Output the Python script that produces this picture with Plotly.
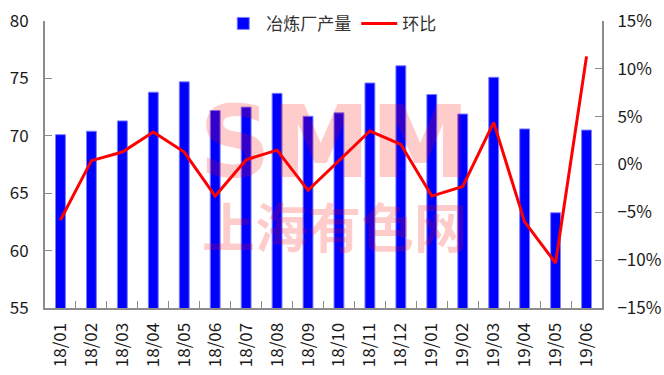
import plotly.graph_objects as go

months = ["18/01", "18/02", "18/03", "18/04", "18/05", "18/06", "18/07", "18/08", "18/09",
          "18/10", "18/11", "18/12", "19/01", "19/02", "19/03", "19/04", "19/05", "19/06"]
output = [70.1, 70.4, 71.3, 73.8, 74.7, 72.2, 72.5, 73.7, 71.7,
          72.0, 74.6, 76.1, 73.6, 71.9, 75.1, 70.6, 63.3, 70.5]
mom = [-5.8, 0.4, 1.3, 3.4, 1.3, -3.3, 0.5, 1.5, -2.7,
       0.4, 3.5, 2.1, -3.3, -2.3, 4.4, -6.0, -10.3, 11.3]

FONT = "Microsoft YaHei, Noto Sans CJK SC, sans-serif"
AX = "#8c8c8c"

fig = go.Figure()
fig.add_trace(go.Bar(
    x=months, y=output, name="冶炼厂产量",
    marker=dict(color="#0000ff", line=dict(color="#7f7fff", width=1)),
    yaxis="y", width=0.32,
))
fig.add_trace(go.Scatter(
    x=months, y=mom, name="环比", mode="lines",
    line=dict(color="#ff0000", width=3), yaxis="y2",
))

fig.update_layout(
    width=664, height=375,
    margin=dict(l=45, r=62, t=21, b=67, autoexpand=False),
    plot_bgcolor="white", paper_bgcolor="white",
    font=dict(family=FONT, size=17, color="#1a1a1a"),
    showlegend=True,
    legend=dict(orientation="h", x=0.513, xanchor="center", y=0.99, yanchor="middle",
                font=dict(size=17, color="#333"), bgcolor="rgba(0,0,0,0)",
                itemwidth=36, tracegroupgap=0),
    xaxis=dict(
        type="category", showline=True, linecolor=AX, linewidth=2,
        ticks="inside", tickson="boundaries", ticklen=7, tickcolor=AX, tickwidth=1,
        tickangle=-90, showgrid=False, ticklabelstandoff=6,
        range=[-0.5, 17.5],
    ),
    yaxis=dict(
        range=[55, 80], dtick=5, showline=True, linecolor=AX, linewidth=2,
        ticks="inside", ticklen=7, tickcolor=AX, showgrid=False, zeroline=False,
        ticklabelstandoff=11,
    ),
    yaxis2=dict(
        range=[-15, 15], dtick=5, ticksuffix="%", overlaying="y", side="right",
        showline=True, linecolor=AX, linewidth=2, ticks="inside", ticklen=7,
        tickcolor=AX, showgrid=False, zeroline=False, ticklabelstandoff=10,
    ),
    annotations=[
        dict(text="<b>SMM</b>", xref="paper", yref="paper", x=0.52, y=0.575,
             xanchor="center", yanchor="middle", showarrow=False,
             font=dict(family="DejaVu Sans, sans-serif", size=100, color="rgba(255,0,0,0.2)")),
        dict(text="<b>上海有色网</b>", xref="paper", yref="paper", x=0.52, y=0.29,
             xanchor="center", yanchor="middle", showarrow=False,
             font=dict(family="Noto Sans CJK SC", size=53, color="rgba(255,0,0,0.2)")),
    ],
)

fig.write_html("out.html", config={"displayModeBar": False},
               post_script="document.body.style.margin='0';")
